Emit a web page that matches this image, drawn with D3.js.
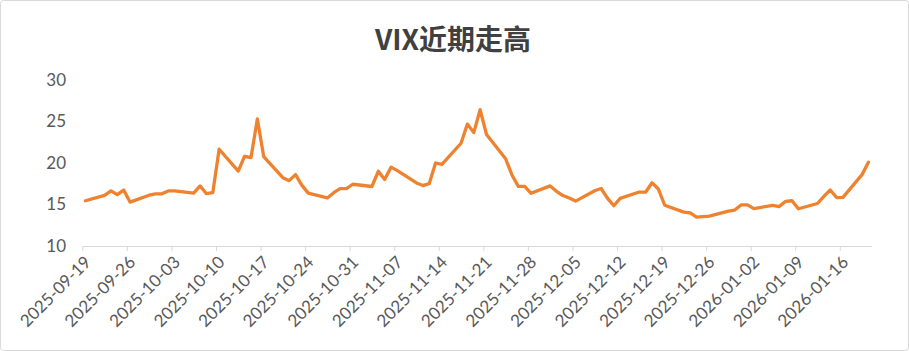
<!DOCTYPE html>
<html><head><meta charset="utf-8">
<script src="https://cdn.jsdelivr.net/npm/d3@7/dist/d3.min.js"></script>
<style>html,body{margin:0;padding:0;background:#fff;}svg{display:block;}</style>
</head><body><svg id="c" width="909" height="351"></svg>
<script>
const title = "VIX近期走高";
const dates = ["2025-09-19","2025-09-22","2025-09-23","2025-09-24","2025-09-25","2025-09-26","2025-09-29","2025-09-30",
"2025-10-01","2025-10-02","2025-10-03","2025-10-06","2025-10-07","2025-10-08","2025-10-09","2025-10-10",
"2025-10-13","2025-10-14","2025-10-15","2025-10-16","2025-10-17","2025-10-20","2025-10-21","2025-10-22","2025-10-23","2025-10-24",
"2025-10-27","2025-10-28","2025-10-29","2025-10-30","2025-10-31","2025-11-03","2025-11-04","2025-11-05","2025-11-06","2025-11-07",
"2025-11-10","2025-11-11","2025-11-12","2025-11-13","2025-11-14","2025-11-17","2025-11-18","2025-11-19","2025-11-20","2025-11-21",
"2025-11-24","2025-11-25","2025-11-26","2025-11-27","2025-11-28","2025-12-01","2025-12-02","2025-12-03","2025-12-04","2025-12-05",
"2025-12-08","2025-12-09","2025-12-10","2025-12-11","2025-12-12","2025-12-15","2025-12-16","2025-12-17","2025-12-18","2025-12-19",
"2025-12-22","2025-12-23","2025-12-24","2025-12-26","2025-12-29","2025-12-30","2025-12-31","2026-01-01","2026-01-02",
"2026-01-05","2026-01-06","2026-01-07","2026-01-08","2026-01-09","2026-01-12","2026-01-13","2026-01-14","2026-01-15","2026-01-16",
"2026-01-19","2026-01-20"];
const vix = [15.45,16.10,16.64,16.18,16.74,15.29,16.12,16.28,
16.29,16.63,16.65,16.37,17.24,16.30,16.43,21.66,
19.03,20.81,20.64,25.31,20.78,18.23,17.87,18.60,17.30,16.37,
15.79,16.42,16.92,16.91,17.44,17.17,19.00,18.01,19.50,19.08,
17.60,17.28,17.51,20.00,19.83,22.38,24.69,23.66,26.42,23.43,
20.52,18.56,17.19,17.19,16.35,17.24,16.59,16.08,15.78,15.41,
16.66,16.93,15.77,14.85,15.74,16.50,16.48,17.62,16.87,14.91,
14.08,14.00,13.47,13.60,14.20,14.33,14.95,14.95,14.51,
14.90,14.75,15.38,15.45,14.49,15.12,15.98,16.75,15.84,15.86,
18.60,20.09];
const yTicks = [10,15,20,25,30];
const xTickLabels = ["2025-09-19","2025-09-26","2025-10-03","2025-10-10","2025-10-17","2025-10-24","2025-10-31",
"2025-11-07","2025-11-14","2025-11-21","2025-11-28","2025-12-05","2025-12-12","2025-12-19","2025-12-26",
"2026-01-02","2026-01-09","2026-01-16"];
const axisStart = "2025-09-19", axisEnd = "2026-01-21";

const parse = d3.utcParse("%Y-%m-%d");
const DAY = 864e5;
const svg = d3.select("#c");
const W = 909, H = 351;

svg.append("rect").attr("x",0.5).attr("y",0.5).attr("width",W-1).attr("height",H-1)
  .attr("rx",3).attr("fill","#fff").attr("stroke","#d9d9d9");

const x = d3.scaleUtc().domain([parse(axisStart), parse(axisEnd)]).range([82.3, 871.6]);
const y = d3.scaleLinear().domain([10,30]).range([246, 80]);

svg.append("text").attr("x",453).attr("y",50).attr("text-anchor","middle")
  .attr("font-family","'Noto Sans CJK SC', sans-serif").attr("font-weight","bold")
  .attr("font-size",28).attr("fill","#404040").text(title);

// y axis labels
const yAx = svg.append("g").attr("transform","translate(66,0)")
  .call(d3.axisLeft(y).tickValues(yTicks).tickSize(0).tickPadding(0));
yAx.select(".domain").remove();
yAx.selectAll("text").attr("font-family","Lato, 'Open Sans', sans-serif").attr("font-size",17).attr("fill","#595959");

// x axis
const xAx = svg.append("g").attr("transform","translate(0,246)")
  .call(d3.axisBottom(x).tickValues(xTickLabels.map(parse)).tickSizeInner(5).tickSizeOuter(0).tickFormat(d3.utcFormat("%Y-%m-%d")));
xAx.select(".domain").attr("stroke","#d9d9d9").attr("stroke-width",1);
xAx.selectAll(".tick line").attr("stroke","#d9d9d9");
xAx.selectAll("text").attr("font-family","Lato, 'Open Sans', sans-serif").attr("font-size",17).attr("fill","#595959")
  .attr("text-anchor","end").attr("transform","translate(5,13) rotate(-45)").attr("dy","0.35em").attr("y",0);

const pts = dates.map((d,i)=>[new Date(parse(d).getTime()+DAY/2), vix[i]]);
svg.append("path").datum(pts)
  .attr("d", d3.line().x(d=>x(d[0])).y(d=>y(d[1])))
  .attr("fill","none").attr("stroke","#EE822F").attr("stroke-width",3.3)
  .attr("stroke-linejoin","round").attr("stroke-linecap","round");
</script></body></html>
